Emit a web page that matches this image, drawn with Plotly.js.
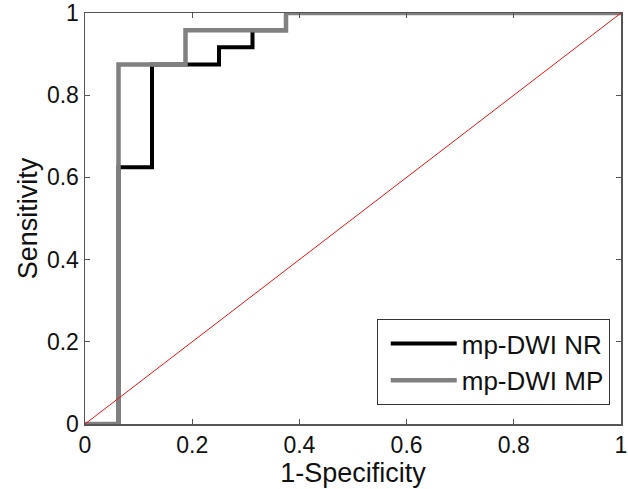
<!DOCTYPE html>
<html>
<head>
<meta charset="utf-8">
<script src="https://cdn.plot.ly/plotly-3.0.1.min.js"></script>
<style>html,body{margin:0;padding:0;background:#fff;}#chart{width:628px;height:489px;}</style>
</head>
<body>
<div id="chart"></div>
<script>
// ROC curve data (1-Specificity, Sensitivity)
const nrFpr  = [0, 0.0625, 0.0625, 0.125, 0.125, 0.25, 0.25, 0.3125, 0.3125, 0.375, 0.375, 1];
const nrTpr  = [0, 0, 0.625, 0.625, 0.875, 0.875, 0.9167, 0.9167, 0.9583, 0.9583, 1, 1];
const mpFpr  = [0, 0.0625, 0.0625, 0.1875, 0.1875, 0.375, 0.375, 1];
const mpTpr  = [0, 0, 0.875, 0.875, 0.9583, 0.9583, 1, 1];
const refX   = [0, 1];
const refY   = [0, 1];
const tickVals = [0, 0.2, 0.4, 0.6, 0.8, 1];
const tickText = ['0', '0.2', '0.4', '0.6', '0.8', '1'];
const seriesNames = ['mp-DWI NR', 'mp-DWI MP'];

const font = 'Arial, Liberation Sans, sans-serif';

const traces = [
  {x: nrFpr, y: nrTpr, mode: 'lines', name: seriesNames[0], line: {color: '#000000', width: 4}},
  {x: mpFpr, y: mpTpr, mode: 'lines', name: seriesNames[1], line: {color: '#808080', width: 4.5}},
  {x: refX, y: refY, mode: 'lines', showlegend: false, line: {color: '#f01010', width: 1}}
];

const axisCommon = {
  range: [0, 1],
  tickvals: tickVals,
  ticktext: tickText,
  ticks: 'inside',
  ticklen: 5,
  tickcolor: '#555',
  showline: true,
  linecolor: '#555',
  linewidth: 1.5,
  mirror: 'ticks',
  showgrid: false,
  zeroline: false,
  ticklabeloverflow: 'allow',
  tickfont: {family: font, size: 23, color: '#111'}
};

const layout = {
  width: 628, height: 489,
  margin: {l: 85, r: 7, t: 13, b: 65},
  paper_bgcolor: '#fff', plot_bgcolor: '#fff',
  xaxis: Object.assign({}, axisCommon, {ticklabelstandoff: 0, title: {text: '1-Specificity', font: {family: font, size: 27, color: '#111'}, standoff: 0}}),
  yaxis: Object.assign({}, axisCommon, {title: {text: 'Sensitivity', font: {family: font, size: 27, color: '#111'}, standoff: 1}}),
  legend: {
    x: 0.979, y: 0.046, xanchor: 'right', yanchor: 'bottom',
    bgcolor: '#fff', bordercolor: '#333', borderwidth: 1,
    font: {family: font, size: 26, color: '#111'},
    itemwidth: 66,
    indentation: 8,
    tracegroupgap: 0
  },
  showlegend: true
};

Plotly.newPlot('chart', traces, layout, {displayModeBar: false, staticPlot: true});
</script>
</body>
</html>
